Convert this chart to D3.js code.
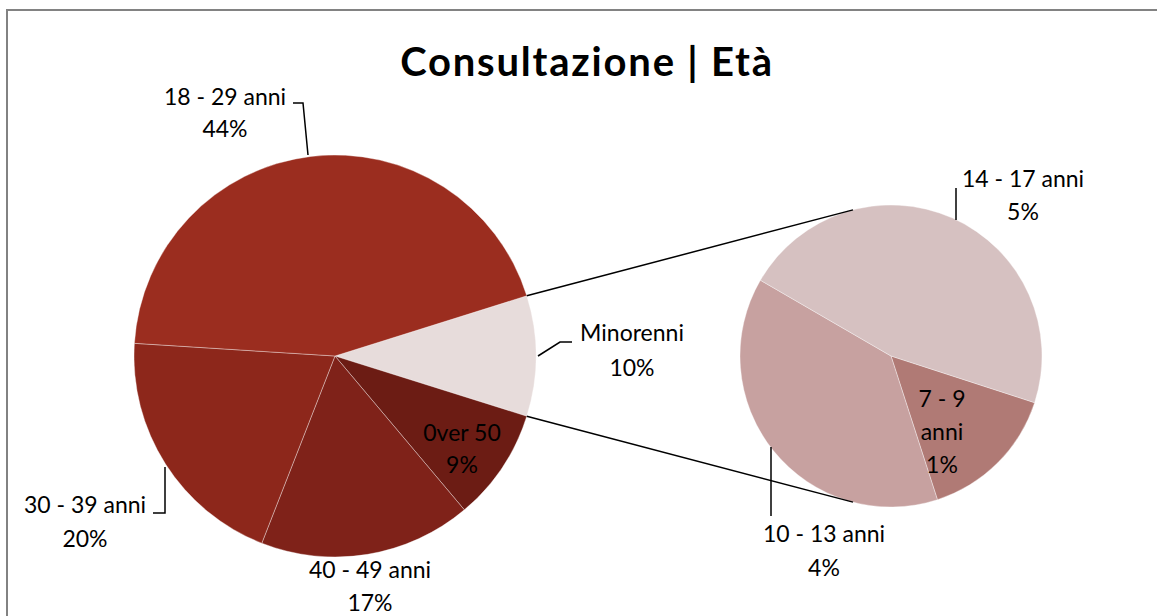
<!DOCTYPE html>
<html>
<head>
<meta charset="utf-8">
<script src="https://cdn.jsdelivr.net/npm/d3@7"></script>
<style>
  body { margin: 0; background: #fff; }
  svg { display: block; font-family: Lato, 'Noto Sans', sans-serif; }
</style>
</head>
<body>
<svg id="chart" width="1157" height="616"></svg>
<script>
var TITLE = 'Consultazione | Età'

// main pie, clockwise starting from the "Minorenni" slice
var mainCategories = ['Minorenni', '0ver 50', '40 - 49 anni', '30 - 39 anni', '18 - 29 anni']
var mainValues = [null, 9, 17, 20, 44] // Minorenni = sum of the sub pie
var mainColors = ['#e7dcdb', '#6c1c14', '#7f2219', '#8d271b', '#9b2d1f']

// second pie (breakdown of Minorenni)
var subCategories = ['7 - 9 anni', '10 - 13 anni', '14 - 17 anni']
var subValues = [1.45, 3.7, 4.5]
var subColors = ['#b07a75', '#c7a1a0', '#d6c1c1']

var MAIN = { cx: 335, cy: 356, r: 201 }
var SUB = { cx: 891, cy: 356, r: 151, start: 0.6 * Math.PI }

// label layout: text centre lines and leader lines
var labelLayout = {
  '18 - 29 anni': { x: 225, y: [97, 129], leader: [[293, 103], [303, 103], [308, 155]] },
  'Minorenni': { x: 632, y: [333, 368], leader: [[572, 342], [560, 342], [538, 356]] },
  '0ver 50': { x: 462, y: [433, 465] },
  '30 - 39 anni': { x: 85, y: [505, 539], leader: [[153, 513], [165, 513], [165, 467]] },
  '40 - 49 anni': { x: 370, y: [570, 603] },
  '14 - 17 anni': { x: 1023, y: [179, 212], leader: [[956, 188], [956, 220]] },
  '7 - 9 anni': { x: 942, y: [399, 432, 465], lines: ['7 - 9', 'anni'] },
  '10 - 13 anni': { x: 824, y: [534, 568], leader: [[771, 516], [771, 447]] }
}

var svg = d3.select('#chart')

// chart area frame (runs off the right and bottom edge)
svg.append('rect')
  .attr('x', 7).attr('y', 10)
  .attr('width', 1300).attr('height', 800)
  .attr('fill', '#fff')
  .attr('stroke', '#828282')
  .attr('stroke-width', 2)

svg.append('text')
  .attr('x', 587).attr('y', 62)
  .attr('dy', '0.36em')
  .attr('text-anchor', 'middle')
  .attr('font-weight', 'bold')
  .attr('font-size', 40)
  .attr('letter-spacing', 1.8)
  .text(TITLE)

var subTotal = d3.sum(subValues)
var mainData = mainCategories.map(function (c, i) {
  return { name: c, value: mainValues[i] === null ? subTotal : mainValues[i], color: mainColors[i] }
})
var subData = subCategories.map(function (c, i) {
  return { name: c, value: subValues[i], color: subColors[i] }
})
var total = d3.sum(mainData, function (d) { return d.value })

var otherSpan = 2 * Math.PI * subTotal / total
var mainStart = Math.PI / 2 - otherSpan / 2

var mainPie = d3.pie().sort(null).value(function (d) { return d.value })
  .startAngle(mainStart).endAngle(mainStart + 2 * Math.PI)
var subPie = d3.pie().sort(null).value(function (d) { return d.value })
  .startAngle(SUB.start).endAngle(SUB.start + 2 * Math.PI)

var mainArcs = mainPie(mainData)
var subArcs = subPie(subData)

function drawPie (arcs, geo) {
  var arc = d3.arc().innerRadius(0).outerRadius(geo.r)
  svg.append('g')
    .attr('transform', 'translate(' + geo.cx + ',' + geo.cy + ')')
    .selectAll('path')
    .data(arcs)
    .join('path')
    .attr('d', arc)
    .attr('fill', function (d) { return d.data.color })
    .attr('stroke', '#fff')
    .attr('stroke-opacity', 0.45)
    .attr('stroke-width', 0.8)
}

drawPie(mainArcs, MAIN)
drawPie(subArcs, SUB)

// connector lines from the "Minorenni" slice to the second pie
function polar (geo, a) {
  return [geo.cx + geo.r * Math.sin(a), geo.cy - geo.r * Math.cos(a)]
}
var other = mainArcs[0]
var tilt = Math.asin(38 / SUB.r)
var connectors = [
  [polar(MAIN, other.startAngle), polar(SUB, -tilt)],
  [polar(MAIN, other.endAngle), polar(SUB, Math.PI + tilt)]
]
svg.append('g').selectAll('line')
  .data(connectors)
  .join('line')
  .attr('x1', function (d) { return d[0][0] })
  .attr('y1', function (d) { return d[0][1] })
  .attr('x2', function (d) { return d[1][0] })
  .attr('y2', function (d) { return d[1][1] })
  .attr('stroke', '#000')
  .attr('stroke-width', 1.5)

// labels
var allArcs = mainArcs.concat(subArcs)
var labels = svg.append('g').attr('font-size', 23).attr('fill', '#000')
allArcs.forEach(function (d) {
  var lay = labelLayout[d.data.name]
  var pct = Math.round(d.data.value / total * 100) + '%'
  var lines = (lay.lines || [d.data.name]).concat([pct])
  if (lay.leader) {
    labels.append('path')
      .attr('d', d3.line()(lay.leader))
      .attr('fill', 'none')
      .attr('stroke', '#000')
      .attr('stroke-width', 1.5)
  }
  lines.forEach(function (t, i) {
    labels.append('text')
      .attr('x', lay.x)
      .attr('y', lay.y[i])
      .attr('dy', '0.35em')
      .attr('text-anchor', 'middle')
      .text(t)
  })
})
</script>
</body>
</html>
